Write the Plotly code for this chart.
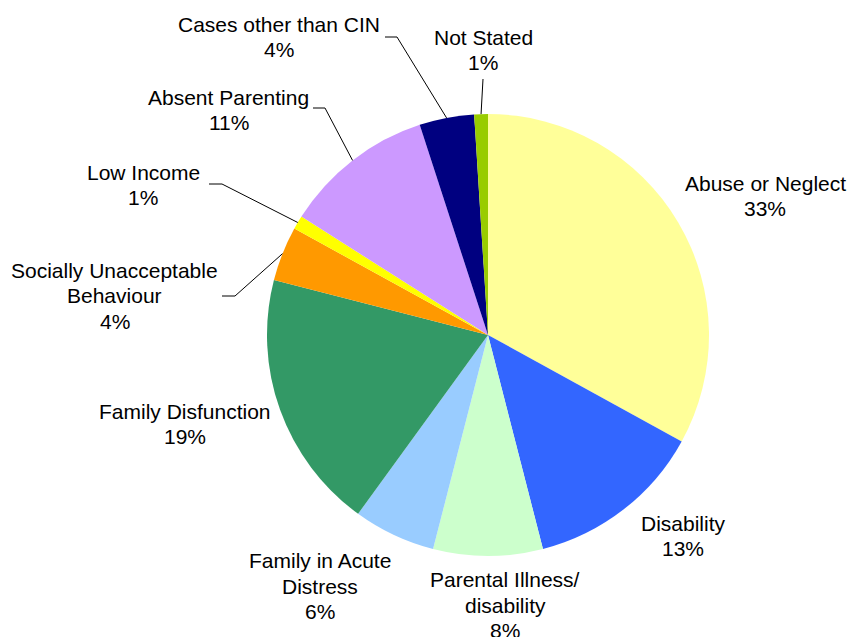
import math
import plotly.graph_objects as go

# Reasons for children being in need
categories = [
    "Abuse or Neglect",
    "Disability",
    "Parental Illness/<br>disability",
    "Family in Acute<br>Distress",
    "Family Disfunction",
    "Socially Unacceptable<br>Behaviour",
    "Low Income",
    "Absent Parenting",
    "Cases other than CIN",
    "Not Stated",
]
shares = [33, 13, 8, 6, 19, 4, 1, 11, 4, 1]

colors = [
    "#FFFF99", "#3366FF", "#CCFFCC", "#99CCFF", "#339966",
    "#FF9900", "#FFFF00", "#CC99FF", "#000080", "#99CC00",
]

W, H = 849, 637
CX, CY, R = 488, 335, 221  # pie centre / radius in pixels
LINE_H = 25.5              # label line pitch in pixels

# Label block centres (px) and leader-line start points (px, None = no line)
label_pos = [
    (765, 196), (683, 536), (505, 605), (320, 586), (185, 424),
    (115, 296), (143, 185), (229, 110), (279, 37), (483, 50),
]
leader_start = [
    None, None, None, None, None,
    [(222, 296), (235, 296)],
    [(209, 184), (222, 184)],
    [(313, 108), (325, 108)],
    [(385, 37), (397, 37)],
    [(483, 79)],
]

def px(x, y):
    return x / W, 1 - y / H

fig = go.Figure(
    go.Pie(
        labels=categories,
        values=shares,
        sort=False,
        direction="clockwise",
        rotation=0,
        marker=dict(colors=colors, line=dict(width=0)),
        textinfo="none",
        hoverinfo="skip",
        showlegend=False,
        domain=dict(
            x=[(CX - R) / W, (CX + R) / W],
            y=[1 - (CY + R) / H, 1 - (CY - R) / H],
        ),
    )
)

total = sum(shares)
cum = 0
annotations, shapes = [], []
for name, v, pos, lead in zip(categories, shares, label_pos, leader_start):
    mid = (cum + v / 2) / total * 2 * math.pi
    cum += v
    pct = round(v / total * 100)
    lines = name.split("<br>") + [f"{pct}%"]
    n = len(lines)
    for i, line in enumerate(lines):
        ly = pos[1] + (i - (n - 1) / 2) * LINE_H
        x, y = px(pos[0], ly)
        annotations.append(dict(
            x=x, y=y, xref="paper", yref="paper",
            text=line, showarrow=False,
            xanchor="center", yanchor="middle", align="center",
            font=dict(family="Liberation Sans, Arial, sans-serif", size=21, color="#000000"),
        ))
    if lead:
        rim = (CX + R * math.sin(mid), CY - R * math.cos(mid))
        pts = lead + [rim]
        for (x0, y0), (x1, y1) in zip(pts[:-1], pts[1:]):
            a0, b0 = px(x0, y0)
            a1, b1 = px(x1, y1)
            shapes.append(dict(
                type="line", xref="paper", yref="paper",
                x0=a0, y0=b0, x1=a1, y1=b1,
                line=dict(color="#000000", width=1),
            ))

fig.update_layout(
    width=W, height=H,
    margin=dict(l=0, r=0, t=0, b=0),
    paper_bgcolor="white", plot_bgcolor="white",
    annotations=annotations, shapes=shapes,
)

fig.write_html("out.html")
